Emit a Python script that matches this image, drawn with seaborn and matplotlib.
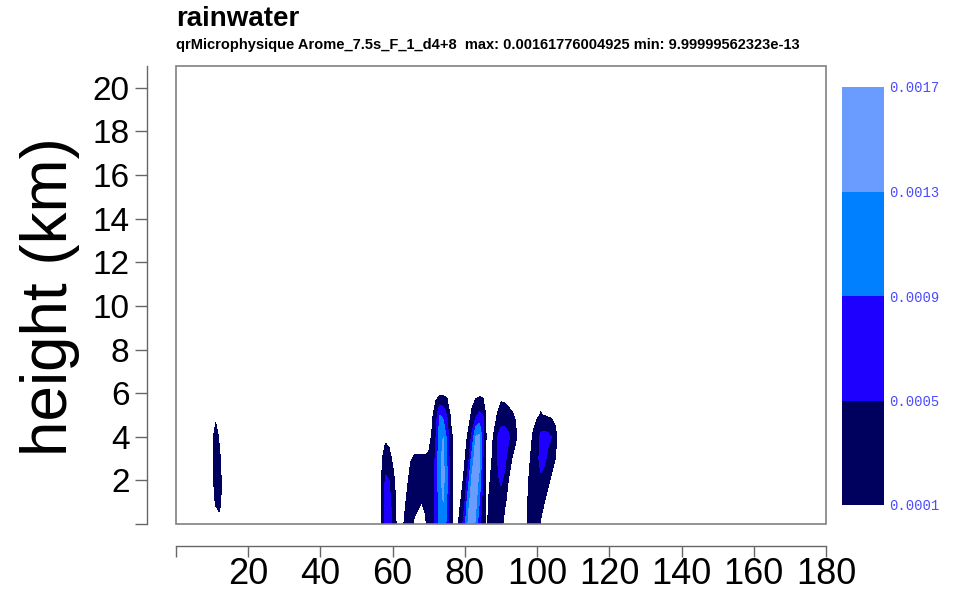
import numpy as np
import matplotlib
matplotlib.use("Agg")
import matplotlib.pyplot as plt
from matplotlib.patches import Rectangle
import seaborn as sns

# rainwater mixing ratio, in units of 1e-4 kg/kg, read column by column
# (key = distance in km, values at heights 0,1,2,3,4,5,6 km)
heights_km = [0, 1, 2, 3, 4, 5, 6]

cell_a = {
    11: [0, 1.2, 2.5, 3, 2.8, 0, 0],
    12: [0, 1.8, 2, 1.5, 0.5, 0, 0],
}
cell_b = {
    57: [1.3, 1.3, 1.2, 0.5, 0, 0, 0],
    58: [6, 6, 5.5, 3.5, 0, 0, 0],
    59: [7, 6.5, 5, 2, 0, 0, 0],
    60: [4, 3.5, 2, 0.5, 0, 0, 0],
    61: [0.8, 0.5, 0, 0, 0, 0, 0],
}
cell_c = {
    63: [0.8, 0, 0, 0, 0, 0, 0],
    64: [3, 1.5, 0.5, 0, 0, 0, 0],
    65: [2, 3, 2, 0.8, 0, 0, 0],
    66: [0.3, 2.5, 3, 1.2, 0, 0, 0],
    67: [0, 1.5, 3, 1.2, 0, 0, 0],
    68: [0, 1, 3, 1.2, 0, 0, 0],
    69: [0.5, 1.5, 3, 1.2, 0, 0, 0],
    70: [2, 2.5, 3, 1.5, 0, 0, 0],
    71: [3, 3, 3, 2.5, 1.5, 0.5, 0],
}
cell_d = {
    72: [6, 6, 6, 6, 5, 3, 0],
    73: [11, 11, 12, 12, 11, 9, 0],
    74: [12, 13, 14, 14, 13, 8, 0],
    75: [8, 9, 10, 9, 8, 5, 0],
    76: [2, 2, 2.5, 2.5, 2, 0.5, 0],
}
cell_e = {
    78: [0.5, 0, 0, 0, 0, 0, 0],
    79: [3, 1.3, 0, 0, 0, 0, 0],
    80: [8, 5, 2, 0.8, 0, 0, 0],
    81: [14, 12, 8, 4, 1.5, 0, 0],
    82: [16, 15, 14, 11, 6, 1.5, 0],
    83: [12, 14, 15, 15, 13, 4, 0],
    84: [6, 9, 12, 14, 14, 6, 0],
    85: [3, 3, 4, 5, 7, 5, 0],
}
cell_f = {
    87: [3, 2, 1, 0, 0, 0, 0],
    88: [3, 3, 3, 2, 1.2, 0, 0],
    89: [4, 4, 4.5, 5, 5, 1.1, 0],
    90: [2, 3.5, 5.5, 7, 7, 2.5, 0],
    91: [0, 1.5, 4, 6.5, 7.5, 2.2, 0],
    92: [0, 0, 1, 3, 6, 1.6, 0],
    93: [0, 0, 0, 1, 3, 1.2, 0],
    94: [0, 0, 0, 0, 1.5, 0.8, 0],
}
cell_g = {
    97: [0.5, 0, 0, 0, 0, 0, 0],
    98: [3, 2.5, 1.5, 0.8, 0, 0, 0],
    99: [4, 4, 3.5, 2.5, 1.5, 0, 0],
    100: [3, 4, 4, 4, 3, 0.5, 0],
    101: [0.5, 2.5, 4.5, 6, 6, 1.2, 0],
    102: [0, 1, 3, 6, 6.5, 0.8, 0],
    103: [0, 0, 1.5, 4, 6, 0.5, 0],
    104: [0, 0, 0.5, 2, 5, 0.3, 0],
    105: [0, 0, 0, 1, 2, 0, 0],
}

levels = [0.0001, 0.0005, 0.0009, 0.0013, 0.0017]
level_colors = ["#00005e", "#1e00ff", "#0080ff", "#6a9cff"]
x_ticks = [0, 20, 40, 60, 80, 100, 120, 140, 160, 180]
y_ticks = [0, 2, 4, 6, 8, 10, 12, 14, 16, 18, 20]

sns.set_style("white")
plt.rcParams["font.family"] = ["Liberation Sans", "DejaVu Sans"]
plt.rcParams["text.color"] = "black"
plt.rcParams["xtick.labelcolor"] = "black"
plt.rcParams["ytick.labelcolor"] = "black"

# put the columns on a 1 km grid (zero = no rain)
x_km = np.arange(0, 181)
z_km = np.arange(0, 22)
qr = np.zeros((len(z_km), len(x_km)))
for cell in [cell_a, cell_b, cell_c, cell_d, cell_e, cell_f, cell_g]:
    for xk, col in cell.items():
        qr[:len(col), xk] = np.array(col) * 1e-4

fig = plt.figure(figsize=(9.58, 5.96), dpi=100)
ax = fig.add_axes([176 / 958, 1 - 524 / 596, 650 / 958, 458 / 596])

cs = ax.contourf(x_km, z_km, qr, levels=levels, colors=level_colors)

ax.set_xlim(0, 180)
ax.set_ylim(0, 21)
sns.despine(ax=ax, offset={"left": 21, "bottom": 16})
for side in ["left", "bottom"]:
    ax.spines[side].set_color("#666666")
    ax.spines[side].set_linewidth(1.0)
ax.add_patch(Rectangle((0, 0), 1, 1, transform=ax.transAxes, fill=False,
                       edgecolor="#808080", lw=1.2, clip_on=False))

ax.set_xticks(x_ticks)
ax.set_xticklabels([""] + [str(t) for t in x_ticks[1:]])
ax.set_yticks(y_ticks)
ax.set_yticklabels([""] + [str(t) for t in y_ticks[1:]])
ax.tick_params(axis="x", direction="out", length=8, width=1, color="#666666",
               labelsize=26, pad=0, bottom=True)
ax.tick_params(axis="y", direction="out", length=8.5, width=1, color="#666666",
               labelsize=24, pad=4, left=True)

fig.text(50 / 958, 1 - 297 / 596, "height (km)", rotation=90, fontsize=46,
         ha="center", va="center")
fig.text(176 / 958, 1 - 19 / 596, "rainwater", fontsize=20, fontweight="bold",
         ha="left", va="center")
fig.text(176 / 958, 1 - 45 / 596,
         "qrMicrophysique Arome_7.5s_F_1_d4+8  max: 0.00161776004925 min: 9.99999562323e-13",
         fontsize=10.5, fontweight="bold", ha="left", va="center")

# colour bar
cax = fig.add_axes([842 / 958, 1 - 505 / 596, 42 / 958, 418 / 596])
cbar = fig.colorbar(cs, cax=cax, ticks=levels)
cbar.outline.set_visible(False)
cax.tick_params(length=0, pad=4, labelsize=10, labelcolor="#4b4bff")
cax.set_yticklabels([f"{v:.4f}" for v in levels], family="Liberation Mono")

fig.savefig("out.png", dpi=100)
